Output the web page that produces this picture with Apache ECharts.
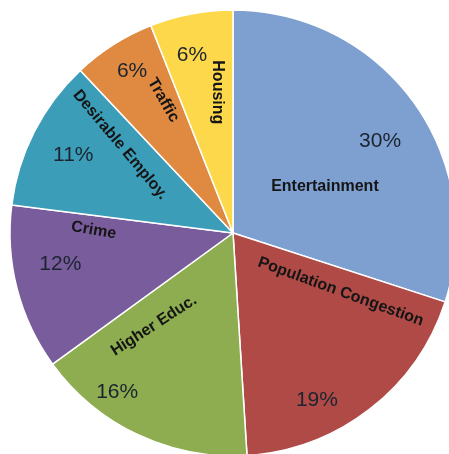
<!DOCTYPE html>
<html>
<head>
<meta charset="utf-8">
<script src="https://cdn.jsdelivr.net/npm/echarts@6/dist/echarts.min.js"></script>
<style>
  html, body { margin: 0; padding: 0; background: #ffffff; }
  #chart { width: 449px; height: 454px; }
</style>
</head>
<body>
<div id="chart"></div>
<script>
// Reasons given, share of responses (%)
const categories = ['Entertainment', 'Population Congestion', 'Higher Educ.', 'Crime', 'Desirable Employ.', 'Traffic', 'Housing'];
const shares = [30, 19, 16, 12, 11, 6, 6];

// Slice fills
const sliceColors = ['#7da0d1', '#b04a47', '#8dad50', '#795c9b', '#3b9db8', '#df8a40', '#fdd84a'];

// Pie geometry
const CX = 233, CY = 233, R = 223;

// Label spots inside each slice: [fraction along the slice's arc, fraction of radius]
const nameSpot = [[0.587, 0.461], [0.155, 0.550], [0.766, 0.546], [0.859, 0.625], [0.778, 0.642], [0.718, 0.673], [0.699, 0.635]];
const pctSpot = [[0.537, 0.778], [0.662, 0.837], [0.688, 0.883], [0.593, 0.787], [0.475, 0.797], [0.519, 0.854], [0.398, 0.817]];
// Name rotation in degrees (counter-clockwise positive)
const nameRotate = [0, -20, 33, -10, -50, -60, -90];

// Start/end of every slice, clockwise from 12 o'clock, in degrees
const total = shares.reduce(function (a, b) { return a + b; }, 0);
const sliceStart = [];
const sliceSpan = [];
(function () {
  let acc = 0;
  shares.forEach(function (v) {
    sliceStart.push(acc / total * 360);
    sliceSpan.push(v / total * 360);
    acc += v;
  });
})();

function spotXY(i, spot) {
  const deg = sliceStart[i] + sliceSpan[i] * spot[i][0];
  const rad = deg * Math.PI / 180;
  const r = R * spot[i][1];
  return { x: CX + r * Math.sin(rad), y: CY - r * Math.cos(rad) };
}

const chart = echarts.init(document.getElementById('chart'), null, { renderer: 'canvas' });

const pieBase = {
  type: 'pie',
  center: [CX, CY],
  radius: [0, R],
  startAngle: 90,
  clockwise: true,
  avoidLabelOverlap: false,
  labelLine: { show: false },
  emphasis: { disabled: true },
  animation: false
};

chart.setOption({
  backgroundColor: '#ffffff',
  series: [
    Object.assign({}, pieBase, {
      name: 'names',
      itemStyle: { borderColor: '#ffffff', borderWidth: 1.5 },
      label: {
        show: true,
        position: 'inside',
        formatter: '{b}',
        fontFamily: 'Liberation Sans, Arial, sans-serif',
        fontWeight: 'bold',
        fontSize: 16,
        color: '#151515',
        align: 'center',
        verticalAlign: 'middle'
      },
      labelLayout: function (p) {
        const pt = spotXY(p.dataIndex, nameSpot);
        return { x: pt.x, y: pt.y, rotate: nameRotate[p.dataIndex], align: 'center', verticalAlign: 'middle' };
      },
      data: categories.map(function (c, i) {
        return { name: c, value: shares[i], itemStyle: { color: sliceColors[i] } };
      })
    }),
    Object.assign({}, pieBase, {
      name: 'percent',
      silent: true,
      itemStyle: { color: 'rgba(0,0,0,0)', borderWidth: 0 },
      label: {
        show: true,
        position: 'inside',
        formatter: '{c}%',
        fontFamily: 'Liberation Sans, Arial, sans-serif',
        fontSize: 21,
        color: '#1c2430',
        align: 'center',
        verticalAlign: 'middle'
      },
      labelLayout: function (p) {
        const pt = spotXY(p.dataIndex, pctSpot);
        return { x: pt.x, y: pt.y, rotate: 0, align: 'center', verticalAlign: 'middle' };
      },
      data: categories.map(function (c, i) {
        return { name: c, value: shares[i] };
      })
    })
  ]
});
</script>
</body>
</html>
